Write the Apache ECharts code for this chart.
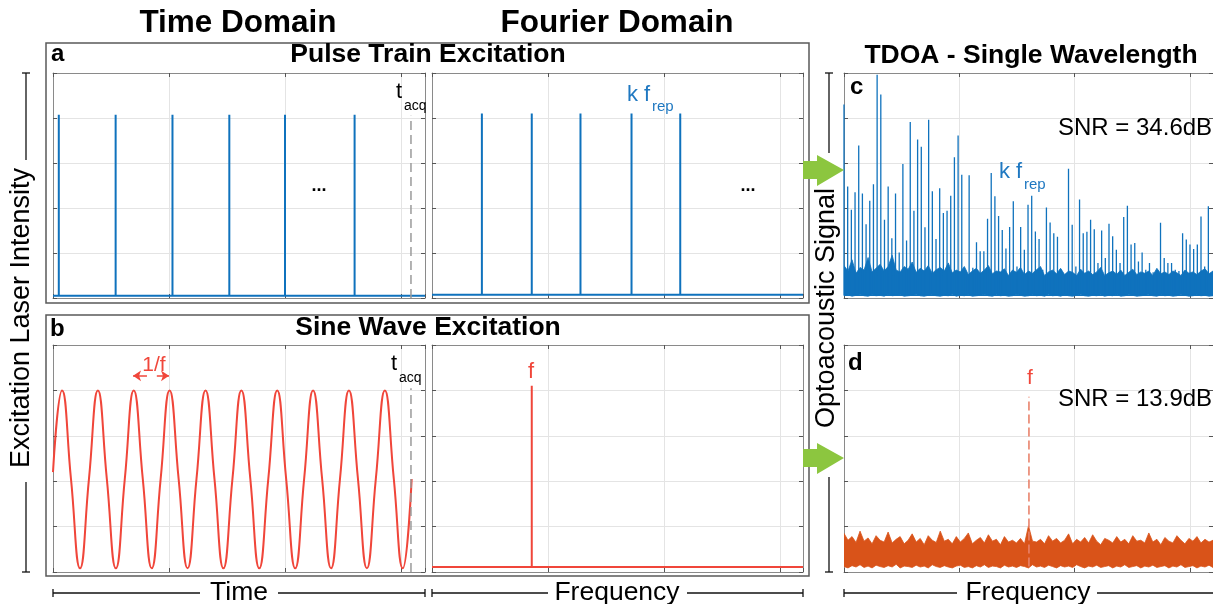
<!DOCTYPE html>
<html>
<head>
<meta charset="utf-8">
<script src="https://cdn.jsdelivr.net/npm/echarts@6/dist/echarts.min.js"></script>
<style>
  html, body { margin: 0; padding: 0; background: #fff; }
  #chart { width: 1213px; height: 604px; }
</style>
</head>
<body>
<div id="chart"></div>
<script>
// all plots share one scale: 1 unit = one grid cell, y runs 0..5

// a: pulse train (time) and its comb (frequency)
const pulseTimes = [0.05, 0.54, 1.03, 1.52, 2.0, 2.6];
const pulseHeight = 4.07;
const pulseBase = 0.05;
const combFreqs = [0.43, 0.86, 1.28, 1.72, 2.14];
const combHeight = 4.1;
const combBase = 0.07;
const tAcq = 3.086;
const tAcqTop = 4.05;

// b: sine wave, read at peaks / crossings / troughs
const sineT = [0.000, 0.078, 0.155, 0.233, 0.310, 0.387, 0.464, 0.542, 0.619, 0.696,
               0.774, 0.851, 0.928, 1.005, 1.083, 1.160, 1.237, 1.315, 1.392, 1.469,
               1.547, 1.624, 1.701, 1.778, 1.856, 1.933, 2.010, 2.088, 2.165, 2.242,
               2.320, 2.397, 2.474, 2.551, 2.629, 2.706, 2.783, 2.861, 2.938, 3.015, 3.092];
const sineV = [2.20, 4.00, 2.05, 0.08, 2.05, 4.00, 2.05, 0.08, 2.05, 4.00,
               2.05, 0.08, 2.05, 4.00, 2.05, 0.08, 2.05, 4.00, 2.05, 0.08,
               2.05, 4.00, 2.05, 0.08, 2.05, 4.00, 2.05, 0.08, 2.05, 4.00,
               2.05, 0.08, 2.05, 4.00, 2.05, 0.08, 2.05, 4.00, 2.05, 0.08, 2.05];
const sineFreq = 0.86;
const sineFreqHeight = 4.1;
const sineBase = 0.11;

// c: measured spectrum, pulsed excitation (harmonic k at k * fRep)
const fRep = 0.0319;
const harmonicPeaks = [
  4.30, 2.48, 1.96, 2.35, 3.39, 2.32, 1.64, 2.16, 2.53, 4.96,
  4.52, 1.74, 2.48, 1.33, 2.32, 1.01, 2.98, 1.28, 3.91, 1.94,
  3.52, 3.36, 1.57, 3.96, 2.37, 1.31, 2.44, 1.89, 1.94, 2.27,
  3.13, 3.61, 2.74, 0.61, 2.73, 0.67, 1.24, 1.04, 1.04, 1.76,
  2.78, 2.26, 1.82, 1.51, 1.10, 1.58, 2.15, 0.70, 1.58, 1.07,
  2.07, 2.27, 1.48, 1.31, 0.63, 2.01, 1.68, 1.44, 1.36, 0.63,
  0.50, 2.87, 1.63, 0.70, 2.19, 1.44, 1.47, 1.74, 1.53, 0.78,
  1.50, 0.89, 1.65, 1.37, 1.07, 0.78, 1.80, 2.05, 1.19, 1.22,
  0.81, 1.01, 0.63, 0.78, 0.57, 0.60, 1.67, 0.89, 0.78, 0.78,
  0.63, 0.60, 1.44, 1.30, 1.19, 1.09, 1.19, 1.81, 0.70, 2.04];
const noiseTopC = [
  0.72, 0.60, 0.85, 0.55, 0.68, 0.62, 0.90, 0.58, 0.66, 0.75,
  0.60, 0.70, 0.95, 0.62, 0.58, 0.70, 0.64, 0.80, 0.57, 0.66,
  0.60, 0.72, 0.55, 0.63, 0.68, 0.60, 0.78, 0.56, 0.62, 0.58,
  0.70, 0.52, 0.60, 0.66, 0.55, 0.62, 0.72, 0.54, 0.60, 0.58,
  0.65, 0.50, 0.62, 0.57, 0.68, 0.52, 0.60, 0.55, 0.63, 0.70,
  0.50, 0.58, 0.62, 0.54, 0.66, 0.52, 0.60, 0.57, 0.50, 0.64,
  0.55, 0.60, 0.52, 0.58, 0.68, 0.50, 0.56, 0.60, 0.53, 0.62,
  0.50, 0.57, 0.64, 0.52, 0.58, 0.55, 0.60, 0.50, 0.66, 0.54,
  0.58, 0.52, 0.60, 0.56, 0.50, 0.62, 0.55, 0.58, 0.52, 0.60,
  0.65, 0.54, 0.60];
const noiseLowC = [
  0.05, 0.07, 0.04, 0.06, 0.08, 0.05, 0.04, 0.07, 0.05, 0.06,
  0.04, 0.08, 0.05, 0.06, 0.07, 0.04, 0.05, 0.06, 0.08, 0.05,
  0.04, 0.06, 0.07, 0.05, 0.04, 0.06, 0.05, 0.08, 0.04, 0.06,
  0.05, 0.07, 0.04, 0.05, 0.06, 0.08, 0.05, 0.04, 0.07, 0.05,
  0.06, 0.04, 0.05, 0.08, 0.06, 0.04, 0.05, 0.07, 0.05, 0.06,
  0.04, 0.08, 0.05, 0.06, 0.04, 0.07, 0.05, 0.04, 0.06, 0.08,
  0.05, 0.04, 0.06, 0.05, 0.07, 0.04, 0.06, 0.05, 0.08, 0.04,
  0.05, 0.07, 0.06, 0.04, 0.05, 0.06, 0.08, 0.05, 0.04, 0.07,
  0.05, 0.06, 0.04, 0.05, 0.08, 0.06, 0.04, 0.05, 0.07, 0.05,
  0.06, 0.04, 0.05];

// d: measured spectrum, sine excitation
const fPeakD = 1.603;
const fPeakDTop = 3.86;
const noiseTopD = [
  0.85, 0.70, 0.78, 0.65, 0.90, 0.68, 0.75, 0.62, 0.80, 0.70,
  0.66, 0.88, 0.64, 0.72, 0.78, 0.62, 0.70, 0.84, 0.66, 0.74,
  0.60, 0.80, 0.70, 0.65, 0.90, 0.68, 0.72, 0.62, 0.78, 0.66,
  0.74, 0.86, 0.62, 0.70, 0.76, 0.64, 0.82, 0.68, 0.72, 0.60,
  0.78, 0.66, 0.70, 0.64, 0.74, 0.62, 1.02, 0.68, 0.66, 0.72,
  0.62, 0.80, 0.68, 0.74, 0.64, 0.70, 0.84, 0.62, 0.72, 0.66,
  0.76, 0.64, 0.82, 0.68, 0.60, 0.74, 0.70, 0.64, 0.78, 0.66,
  0.72, 0.62, 0.80, 0.68, 0.70, 0.64, 0.86, 0.66, 0.72, 0.60,
  0.76, 0.68, 0.64, 0.80, 0.70, 0.62, 0.74, 0.68, 0.78, 0.64,
  0.72, 0.66, 0.70];
const noiseLowD = [
  0.12, 0.09, 0.14, 0.11, 0.16, 0.10, 0.13, 0.09, 0.15, 0.12,
  0.10, 0.14, 0.11, 0.17, 0.09, 0.13, 0.12, 0.10, 0.15, 0.11,
  0.13, 0.09, 0.16, 0.12, 0.10, 0.14, 0.11, 0.09, 0.13, 0.15,
  0.10, 0.12, 0.09, 0.14, 0.11, 0.16, 0.10, 0.13, 0.12, 0.09,
  0.15, 0.11, 0.13, 0.10, 0.14, 0.12, 0.09, 0.16, 0.11, 0.13,
  0.10, 0.15, 0.12, 0.09, 0.14, 0.11, 0.13, 0.10, 0.16, 0.12,
  0.09, 0.13, 0.11, 0.15, 0.10, 0.12, 0.14, 0.09, 0.13, 0.11,
  0.16, 0.10, 0.12, 0.14, 0.09, 0.13, 0.11, 0.15, 0.10, 0.12,
  0.14, 0.09, 0.13, 0.11, 0.16, 0.10, 0.12, 0.14, 0.09, 0.13,
  0.11, 0.15, 0.10];

const BLUE = '#0f72bd';
const RED = '#f0463a';
const ORANGE = '#d95319';
const GREEN = '#8cc63f';
const FONT = "'Liberation Sans', Arial, Helvetica, sans-serif";
const CELL = 116; // px per x unit

// plot boxes: a-time, a-freq, b-time, b-freq, c, d
const plots = [
  { left: 53, top: 73, width: 372, height: 225 },
  { left: 432, top: 73, width: 371, height: 225 },
  { left: 53, top: 345, width: 372, height: 227 },
  { left: 432, top: 345, width: 371, height: 227 },
  { left: 844, top: 73, width: 371, height: 225 },
  { left: 844, top: 345, width: 371, height: 227 }
];
const xMax = plots.map(p => p.width / CELL);

// baseline with a vertical stem at each x
function stems(xs, hs, base, end) {
  const pts = [[0, base]];
  xs.forEach((x, i) => {
    const h = Array.isArray(hs) ? hs[i] : hs;
    pts.push([x, base], [x, h], [x, base]);
  });
  pts.push([end, base]);
  return pts;
}

function axisX(i, pos, main) {
  return {
    type: 'value', gridIndex: i, position: pos, min: 0, max: xMax[i], interval: 1,
    axisLabel: { show: false },
    axisLine: { show: true, onZero: false, lineStyle: { color: '#8a8a8a', width: 1 } },
    axisTick: { show: true, inside: true, length: 4, lineStyle: { color: '#555' } },
    splitLine: { show: main, lineStyle: { color: '#e4e4e4', width: 1 } }
  };
}
function axisY(i, pos, main) {
  return {
    type: 'value', gridIndex: i, position: pos, min: 0, max: 5, interval: 1,
    axisLabel: { show: false },
    axisLine: { show: true, onZero: false, lineStyle: { color: '#8a8a8a', width: 1 } },
    axisTick: { show: true, inside: true, length: 4, lineStyle: { color: '#555' } },
    splitLine: { show: main, lineStyle: { color: '#e4e4e4', width: 1 } }
  };
}

const xAxis = [], yAxis = [];
plots.forEach((p, i) => {
  xAxis.push(axisX(i, 'bottom', true), axisX(i, 'top', false));
  yAxis.push(axisY(i, 'left', true), axisY(i, 'right', false));
});

function line(i, data, color, width, extra) {
  return Object.assign({
    type: 'line', xAxisIndex: 2 * i, yAxisIndex: 2 * i, data: data,
    symbol: 'none', silent: true, animation: false,
    lineStyle: { color: color, width: width }
  }, extra || {});
}

// noise floor drawn as a filled band between the low and top traces
function band(i, lows, tops, color) {
  const step = xMax[i] / (tops.length - 1);
  return {
    type: 'custom', xAxisIndex: 2 * i, yAxisIndex: 2 * i, silent: true, animation: false,
    clip: true, data: [[0, 0]],
    renderItem: function (params, api) {
      const pts = tops.map((v, k) => api.coord([k * step, v]));
      for (let k = lows.length - 1; k >= 0; k--) pts.push(api.coord([k * step, lows[k]]));
      return { type: 'polygon', shape: { points: pts }, style: { fill: color, stroke: color, lineWidth: 0.8 } };
    }
  };
}

const dashed = (color, w, dash) => ({ lineStyle: { color: color, width: w, type: dash } });

const series = [
  line(0, stems(pulseTimes, pulseHeight, pulseBase, xMax[0]), BLUE, 2),
  line(0, [[tAcq, 0], [tAcq, tAcqTop]], '#9a9a9a', 1.5, dashed('#9a9a9a', 1.5, [9, 5])),
  line(1, stems(combFreqs, combHeight, combBase, xMax[1]), BLUE, 2),
  line(2, sineT.map((t, k) => [t, sineV[k]]), RED, 2, {
    smooth: 0.5,
    markLine: {
      silent: true, symbol: ['none', 'arrow'], symbolSize: 8, label: { show: false },
      lineStyle: { color: RED, width: 1.5, type: 'solid' },
      data: [
        [{ coord: [0.81, 4.32] }, { coord: [0.69, 4.32] }],
        [{ coord: [0.895, 4.32] }, { coord: [1.0, 4.32] }]
      ]
    }
  }),
  line(2, [[tAcq, 0], [tAcq, tAcqTop]], '#9a9a9a', 1.5, dashed('#9a9a9a', 1.5, [9, 5])),
  line(3, stems([sineFreq], sineFreqHeight, sineBase, xMax[3]), RED, 2),
  band(4, noiseLowC, noiseTopC, BLUE),
  line(4, stems(harmonicPeaks.map((h, k) => k * fRep), harmonicPeaks, 0.06, xMax[4]), BLUE, 1.3),
  line(5, [[fPeakD, 0.12], [fPeakD, fPeakDTop]], '#e9826b', 1.6, dashed('#e9826b', 1.6, [9, 4])),
  band(5, noiseLowD, noiseTopD, ORANGE)
];

function txt(x, y, text, size, o) {
  o = o || {};
  return {
    type: 'text', x: x, y: y, rotation: o.rot || 0, silent: true, z: 10,
    style: {
      text: text, font: (o.bold ? 'bold ' : '') + size + 'px ' + FONT,
      fill: o.color || '#000', align: o.align || 'left', verticalAlign: 'middle'
    }
  };
}
function seg(x1, y1, x2, y2) {
  return { type: 'line', silent: true, z: 10, shape: { x1: x1, y1: y1, x2: x2, y2: y2 },
    style: { stroke: '#111', lineWidth: 1.3 } };
}
function box(x, y, w, h) {
  return { type: 'rect', silent: true, z: 9, shape: { x: x, y: y, width: w, height: h },
    style: { fill: 'none', stroke: '#5a5a5a', lineWidth: 1.5 } };
}
function arrow(yc) {
  return { type: 'polygon', silent: true, z: 10,
    shape: { points: [[803, yc - 9], [817, yc - 9], [817, yc - 15], [844, yc], [817, yc + 16], [817, yc + 9], [803, yc + 9]] },
    style: { fill: GREEN } };
}

const graphic = [
  box(46, 43, 763, 260),
  box(46, 315, 763, 261),
  txt(238, 23, 'Time Domain', 31.5, { bold: true, align: 'center' }),
  txt(617, 23, 'Fourier Domain', 31.5, { bold: true, align: 'center' }),
  txt(428, 55, 'Pulse Train Excitation', 26.5, { bold: true, align: 'center' }),
  txt(428, 328, 'Sine Wave Excitation', 26.5, { bold: true, align: 'center' }),
  txt(1031, 56, 'TDOA - Single Wavelength', 26.5, { bold: true, align: 'center' }),
  txt(51, 54, 'a', 24, { bold: true }),
  txt(50, 329, 'b', 24, { bold: true }),
  txt(850, 87, 'c', 24, { bold: true }),
  txt(848, 363, 'd', 24, { bold: true }),
  txt(396, 92, 't', 22), txt(404, 106, 'acq', 14),
  txt(391, 364, 't', 22), txt(399, 378, 'acq', 14),
  txt(627, 95, 'k f', 22, { color: '#1f78c1' }), txt(652, 107, 'rep', 15, { color: '#1f78c1' }),
  txt(999, 172, 'k f', 22, { color: '#1f78c1' }), txt(1024, 185, 'rep', 15, { color: '#1f78c1' }),
  txt(319, 186, '...', 18, { bold: true, align: 'center' }),
  txt(748, 186, '...', 18, { bold: true, align: 'center' }),
  txt(154, 365, '1/f', 21, { color: RED, align: 'center' }),
  txt(531, 372, 'f', 22, { color: RED, align: 'center' }),
  txt(1030, 378, 'f', 21, { color: RED, align: 'center' }),
  txt(1058, 128, 'SNR = 34.6dB', 24),
  txt(1058, 399, 'SNR = 13.9dB', 24),
  // axis titles with their bracket lines
  txt(22, 318, 'Excitation Laser Intensity', 27, { align: 'center', rot: Math.PI / 2 }),
  seg(26, 73, 26, 160), seg(22, 73, 30, 73), seg(26, 482, 26, 572), seg(22, 572, 30, 572),
  txt(827, 308, 'Optoacoustic Signal', 27, { align: 'center', rot: Math.PI / 2 }),
  seg(829, 73, 829, 153), seg(825, 73, 833, 73), seg(829, 477, 829, 572), seg(825, 572, 833, 572),
  txt(239, 593, 'Time', 26.5, { align: 'center' }),
  seg(53, 593, 200, 593), seg(53, 589, 53, 597), seg(278, 593, 425, 593), seg(425, 589, 425, 597),
  txt(617, 593, 'Frequency', 26.5, { align: 'center' }),
  seg(432, 593, 548, 593), seg(432, 589, 432, 597), seg(687, 593, 803, 593), seg(803, 589, 803, 597),
  txt(1028, 593, 'Frequency', 26.5, { align: 'center' }),
  seg(844, 593, 957, 593), seg(844, 589, 844, 597), seg(1097, 593, 1213, 593),
  arrow(170),
  arrow(458)
];

const chart = echarts.init(document.getElementById('chart'), null, { renderer: 'canvas' });
chart.setOption({
  animation: false,
  backgroundColor: '#fff',
  grid: plots.map(p => Object.assign({ show: false }, p)),
  xAxis: xAxis,
  yAxis: yAxis,
  series: series,
  graphic: graphic
});
</script>
</body>
</html>
